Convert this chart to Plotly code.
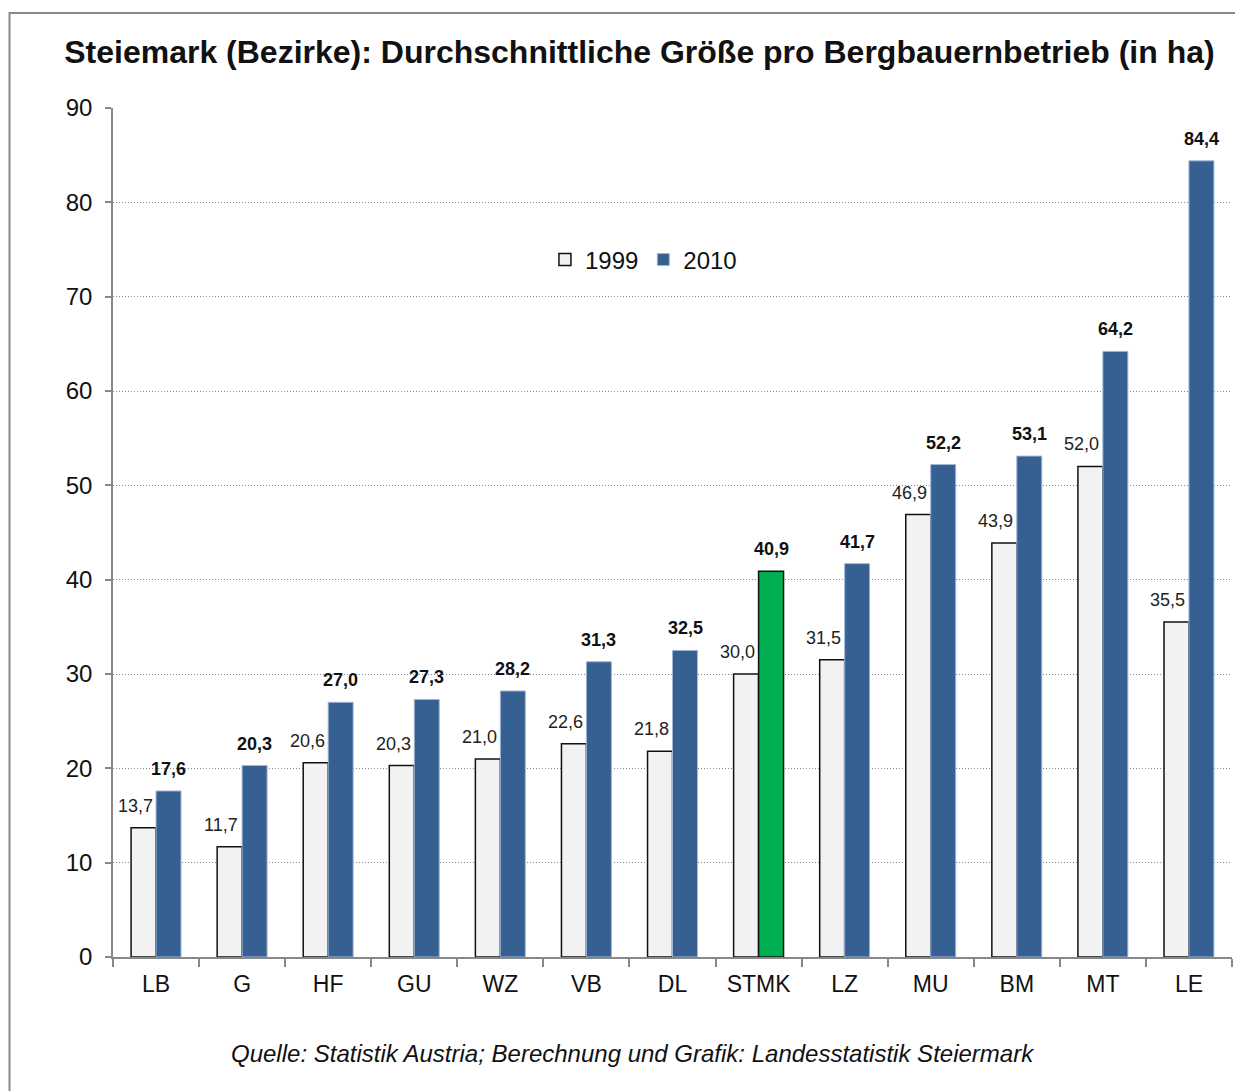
import plotly.graph_objects as go

DISTRICTS = ["LB", "G", "HF", "GU", "WZ", "VB", "DL", "STMK", "LZ", "MU", "BM", "MT", "LE"]
SIZE_1999 = [13.7, 11.7, 20.6, 20.3, 21.0, 22.6, 21.8, 30.0, 31.5, 46.9, 43.9, 52.0, 35.5]
SIZE_2010 = [17.6, 20.3, 27.0, 27.3, 28.2, 31.3, 32.5, 40.9, 41.7, 52.2, 53.1, 64.2, 84.4]
Y_TICKS = [0, 10, 20, 30, 40, 50, 60, 70, 80, 90]

BLUE = "#376092"
GREEN = "#00b050"
LIGHT = "#f2f2f2"

colors_2010 = [GREEN if d == "STMK" else BLUE for d in DISTRICTS]
lines_2010 = ["#111111" if d == "STMK" else "#9fb6d6" for d in DISTRICTS]
widths_2010 = [1.5 if d == "STMK" else 1 for d in DISTRICTS]


def fmt(v):
    return f"{v:.1f}".replace(".", ",")


fig = go.Figure()
fig.add_trace(go.Bar(
    name="1999",
    x=DISTRICTS,
    y=SIZE_1999,
    marker=dict(color=LIGHT, line=dict(color="#111111", width=1.5)),
))
fig.add_trace(go.Bar(
    name="2010",
    x=DISTRICTS,
    y=SIZE_2010,
    marker=dict(color=colors_2010, line=dict(color=lines_2010, width=widths_2010)),
))

# value labels, placed like the original (1999 a bit left of its bar)
for d, v in zip(DISTRICTS, SIZE_1999):
    fig.add_annotation(
        x=d, y=v, text=fmt(v), showarrow=False,
        xshift=-21, yshift=22, yanchor="middle",
        font=dict(size=18, color="#222222"),
    )
for d, v in zip(DISTRICTS, SIZE_2010):
    fig.add_annotation(
        x=d, y=v, text=f"<b>{fmt(v)}</b>", showarrow=False,
        xshift=12.5, yshift=22, yanchor="middle",
        font=dict(size=18, color="#111111"),
    )

fig.update_layout(
    width=1243,
    height=1091,
    barmode="group",
    bargap=0.42,
    bargroupgap=0,
    separators=",.",
    plot_bgcolor="white",
    paper_bgcolor="white",
    font=dict(family="Liberation Sans, Arial", size=24, color="#111111"),
    margin=dict(l=105, r=19, t=100, b=142),
    title=dict(
        text="<b>Steiemark (Bezirke): Durchschnittliche Größe pro Bergbauernbetrieb (in ha)</b>",
        x=0.508,
        xanchor="center",
        y=0.96,
        yanchor="middle",
        font=dict(size=32, color="#111111"),
    ),
    legend=dict(
        orientation="h",
        x=0.386,
        y=0.821,
        xanchor="left",
        yanchor="middle",
        font=dict(size=24),
        bgcolor="rgba(0,0,0,0)",
        itemwidth=30,
        traceorder="normal",
    ),
    showlegend=True,
    xaxis=dict(
        showline=True,
        linecolor="#888888",
        linewidth=1.5,
        ticks="outside",
        tickson="boundaries",
        ticklen=8,
        tickcolor="#888888",
        tickwidth=1.5,
        tickfont=dict(size=23),
        ticklabelstandoff=6,
    ),
    yaxis=dict(
        range=[0, 90],
        tickvals=Y_TICKS,
        showline=True,
        linecolor="#888888",
        linewidth=1.5,
        ticks="outside",
        ticklen=6,
        tickcolor="#888888",
        tickwidth=1.5,
        showgrid=True,
        gridcolor="#888888",
        griddash="1px,2px",
        gridwidth=1,
        zeroline=False,
        tickfont=dict(size=24),
        ticklabelstandoff=8,
    ),
)

fig.add_annotation(
    text="<i>Quelle: Statistik Austria; Berechnung und Grafik: Landesstatistik Steiermark</i>",
    xref="paper",
    yref="paper",
    x=0.465,
    y=-0.114,
    xanchor="center",
    yanchor="middle",
    showarrow=False,
    font=dict(size=24, color="#111111"),
)

# outer frame of the chart
fig.add_shape(
    type="rect",
    xref="paper",
    yref="paper",
    x0=-0.0925,
    x1=1.05,
    y0=-0.3,
    y1=1.112,
    line=dict(color="#888888", width=2),
    fillcolor="rgba(0,0,0,0)",
    layer="below",
)

fig.write_html("out.html")
